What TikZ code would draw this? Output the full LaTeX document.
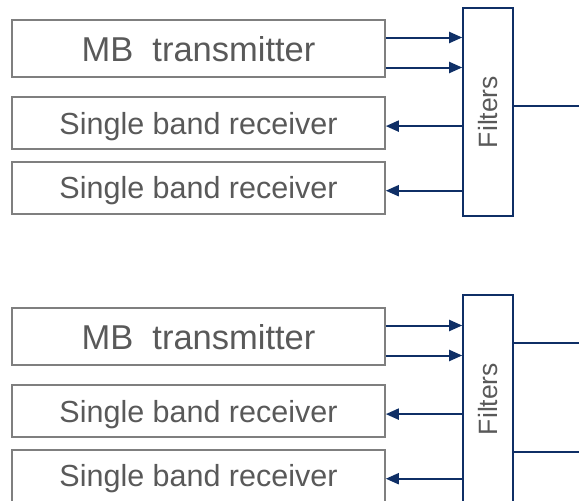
\documentclass[tikz,border=0pt]{standalone}
\usepackage{fontspec}
\setmainfont{Liberation Sans}
\usetikzlibrary{arrows.meta,positioning}
\definecolor{navy}{HTML}{0F2F66}
\definecolor{boxgray}{HTML}{7F7F7F}
\definecolor{textgray}{HTML}{595959}
\tikzstyle{block}=[
	rectangle,
	draw=boxgray,
	line width=1.6pt,
	text=textgray,
	text depth=0pt,
	minimum width=373pt,
	minimum height=52pt,
	inner sep=0pt
]
\tikzstyle{filterbox}=[
	rectangle,
	draw=navy,
	line width=1.6pt,
	minimum width=50pt,
	minimum height=208pt,
	inner sep=0pt,
	label={[rotate=90,text=textgray,font=\fontsize{26.5}{30}\selectfont]center:Filters}
]
\tikzstyle{signal}=[
	-{Triangle[length=13pt,width=11pt]},
	draw=navy,
	line width=2pt
]
\tikzstyle{link}=[
	draw=navy,
	line width=1.6pt
]

\begin{document}
\begin{tikzpicture}[x=1pt,y=-1pt]
\clip (0,0) rectangle (579,501);
% upper group
\node [block, minimum height=57pt, font=\fontsize{34.5}{40}\selectfont] (TxA) at (198.5,48.5) {MB\ \ transmitter};
\node [block, font=\fontsize{30.5}{36}\selectfont] (RxA1) [below=18.5pt of TxA] {Single band receiver};
\node [block, font=\fontsize{30.5}{36}\selectfont] (RxA2) [below=11pt of RxA1] {Single band receiver};
\node [filterbox] (FiltA) at (488,112) {};
\coordinate (OutA) at (579,106);
\draw [signal] ([yshift=11pt]TxA.east) -- ([yshift=11pt]TxA.east -| FiltA.west);
\draw [signal] ([yshift=-19pt]TxA.east) -- ([yshift=-19pt]TxA.east -| FiltA.west);
\draw [signal] ([yshift=-3pt]RxA1.east -| FiltA.west) -- ([yshift=-3pt]RxA1.east);
\draw [signal] ([yshift=-3pt]RxA2.east -| FiltA.west) -- ([yshift=-3pt]RxA2.east);
\draw [link] (FiltA.east |- OutA) -- (OutA);
% lower group
\node [block, minimum height=57pt, font=\fontsize{34.5}{40}\selectfont] (TxB) at (198.5,336.5) {MB\ \ transmitter};
\node [block, font=\fontsize{30.5}{36}\selectfont] (RxB1) [below=18.5pt of TxB] {Single band receiver};
\node [block, font=\fontsize{30.5}{36}\selectfont] (RxB2) [below=11pt of RxB1] {Single band receiver};
\node [filterbox] (FiltB) at (488,399) {};
\coordinate (OutB1) at (579,343);
\coordinate (OutB2) at (579,452);
\draw [signal] ([yshift=11pt]TxB.east) -- ([yshift=11pt]TxB.east -| FiltB.west);
\draw [signal] ([yshift=-19pt]TxB.east) -- ([yshift=-19pt]TxB.east -| FiltB.west);
\draw [signal] ([yshift=-3pt]RxB1.east -| FiltB.west) -- ([yshift=-3pt]RxB1.east);
\draw [signal] ([yshift=-3pt]RxB2.east -| FiltB.west) -- ([yshift=-3pt]RxB2.east);
\draw [link] (FiltB.east |- OutB1) -- (OutB1);
\draw [link] (FiltB.east |- OutB2) -- (OutB2);
\end{tikzpicture}
\end{document}
